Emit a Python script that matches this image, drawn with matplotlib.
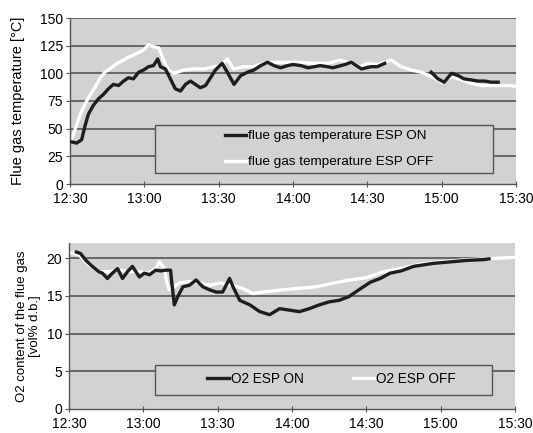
import matplotlib.pyplot as plt
from matplotlib.patches import Rectangle
import numpy as np

plt.rcParams['font.family'] = ['Liberation Sans', 'DejaVu Sans']

# minutes after 12:30
tick_pos = [0, 30, 60, 90, 120, 150, 180]
tick_lab = ['12:30', '13:00', '13:30', '14:00', '14:30', '15:00', '15:30']

temp_on_t = [0.7, 2.7, 4.7, 6, 7.4, 9.4, 11.5, 13.5, 15.5, 17.5, 19.6, 21.6, 23.6, 25.6, 27.7,
             29.7, 31.7, 33.7, 35.4, 36.5, 38.5, 40.5, 42.5, 44.6, 46.6, 48.6, 50.6, 52.6, 54.7,
             56.7, 58.7, 61.4, 63.5, 66.2, 68.9, 71.6, 74.2, 77, 79.7, 82.3, 85, 87.8, 90, 93.2,
             96, 98.6, 101, 104, 106, 109.4, 111, 113.5, 117.6, 121.6, 124, 127, 136,
             145.8, 148.5, 151, 154, 156.6, 159, 162, 164.7, 167.4, 170, 172.8]
temp_on = [38, 37, 40, 52, 63, 71, 77, 81, 86, 90, 89, 93, 96, 95, 101,
           103, 106, 107, 113, 106, 104, 95, 86, 84, 90, 93, 90, 87, 89,
           96, 103, 109, 101, 90, 98, 101, 103, 107, 110, 107, 105, 107, 108, 107,
           105, 106, 107, 106, 105, 107, 108, 110, 104, 106, 106, 109, np.nan,
           101, 95, 92, 100, 98, 95, 94, 93, 93, 92, 92]

temp_off_t = [0, 2, 4, 6, 8, 10, 12, 14, 16, 19, 21.6, 24, 27, 29.7, 31.7, 33.7, 35.8, 37.8,
              39.8, 41.9, 46, 50, 54, 58, 61, 63.5, 66, 70, 74, 78, 82, 88, 93, 98, 104, 109,
              113.5, 117, 120, 124, 127, 129.6, 133.6, 137.7, 141.8, 145.8, 150, 154, 158, 162,
              166, 170, 174, 178, 180]
temp_off = [37, 49, 62, 72, 80, 87, 95, 101, 104, 109, 112, 115, 118, 121, 126, 124, 123, 112,
            103, 100, 103, 104, 104, 106, 107, 113, 104, 106, 106, 109, 110, 110, 110, 109, 109, 112,
            109, 106, 109, 108, 110, 112, 106, 103, 101, 97, 92, 97, 94, 91,
            89, 89, 89, 89, 88]

o2_on_t = [3, 4.7, 6.8, 9.4, 12, 13.5, 15.5, 17.5, 19.6, 21.6, 23.6, 25.6, 28.4, 30.4, 32.5, 35,
           37, 39, 41, 41.5, 42.5, 43.9, 46, 48.6, 51.3, 54, 56.7, 59.4, 62, 64.8, 66.2, 68.9, 73,
           77, 81, 85, 89, 93, 97, 101, 105, 109, 113, 117, 121.6, 125.6, 129.6, 134, 139, 147,
           154, 160.7, 167.4, 169.5]
o2_on = [20.8, 20.6, 19.7, 18.9, 18.2, 18.0, 17.3, 18.0, 18.6, 17.3, 18.2, 18.9, 17.5, 18.0, 17.8, 18.4,
         18.3, 18.4, 18.4, 16.7, 13.8, 14.9, 16.2, 16.4, 17.1, 16.2, 15.8, 15.5, 15.5, 17.3, 16.2, 14.4, 13.8,
         12.9, 12.5, 13.3, 13.1, 12.9, 13.3, 13.8, 14.2, 14.4, 14.9, 15.8, 16.8, 17.3, 18.0, 18.3, 18.9, 19.3,
         19.5, 19.7, 19.8, 19.9]

o2_off_t = [0, 4, 8, 12, 16, 20, 24, 28, 32, 35, 36.5, 38.5, 39.5, 40.5, 44.6, 48.6, 52.6, 56.7,
            60.8, 66, 70, 74.2, 78.3, 86.4, 93, 100, 106.8, 113.5, 120, 127, 133.6, 140.4, 147,
            154, 160.7, 167.5, 174, 180]
o2_off = [20.8, 20.4, 19.1, 18.2, 18.2, 18.4, 18.2, 18.2, 18.0, 18.6, 19.5, 18.6, 16.7, 15.8, 16.7, 16.9,
          16.7, 16.4, 16.7, 16.4, 16.0, 15.3, 15.5, 15.8, 16.0, 16.2, 16.7, 17.1, 17.4, 18.2, 18.6, 19.1,
          19.4, 19.6, 19.8, 19.9, 20.0, 20.1]

bg = '#d2d2d2'
grid_c = '#4a4a4a'

fig = plt.figure(figsize=(5.33, 4.33), dpi=100)
ax1 = fig.add_axes([70/533, 1-184/433, 446/533, 166/433])
ax2 = fig.add_axes([69/533, 1-409/433, 446/533, 166/433])


def style(ax, ymax, yticks):
    ax.set_facecolor(bg)
    ax.set_xlim(0, 180)
    ax.set_ylim(0, ymax)
    ax.set_xticks(tick_pos)
    ax.set_xticklabels(tick_lab)
    ax.set_yticks(yticks)
    for y in yticks[1:]:
        ax.axhline(y, color=grid_c, lw=1.1, zorder=1)
    for s in ['top', 'right']:
        ax.spines[s].set_visible(False)
    for s in ['left', 'bottom']:
        ax.spines[s].set_color('#555555')
        ax.spines[s].set_linewidth(1.0)
    ax.tick_params(axis='x', direction='inout', length=5, color='#555555', labelsize=10, pad=3)
    ax.tick_params(axis='y', direction='out', length=3, color='#555555', labelsize=10, pad=2)


style(ax1, 150, [0, 25, 50, 75, 100, 125, 150])
style(ax2, 22, [0, 5, 10, 15, 20])

l1, = ax1.plot(temp_on_t, temp_on, color='#1e1e1e', lw=2.4, zorder=3)
l2, = ax1.plot(temp_off_t, temp_off, color='white', lw=2.4, zorder=2)
ax1.set_ylabel('Flue gas temperature [°C]', fontsize=10.5)
ax1.yaxis.set_label_coords(-0.101, 0.5)

ax1.add_patch(Rectangle((0.191, 0.066), 0.758, 0.289, transform=ax1.transAxes,
                        facecolor=bg, edgecolor='#555555', lw=1.0, zorder=4))
ax1.legend([l1, l2], ['flue gas temperature ESP ON', 'flue gas temperature ESP OFF'],
           loc='center left', bbox_to_anchor=(0.332, 0.21), frameon=False, fontsize=9.7,
           handlelength=1.6, handletextpad=0.15, borderpad=0, labelspacing=1.0).set_zorder(5)

l3, = ax2.plot(o2_on_t, o2_on, color='#1e1e1e', lw=2.4, zorder=3)
l4, = ax2.plot(o2_off_t, o2_off, color='white', lw=2.4, zorder=2)
ax2.set_ylabel('O2 content of the flue gas\n[vol% d.b.]', fontsize=9.5)
ax2.yaxis.set_label_coords(-0.062, 0.5)

ax2.add_patch(Rectangle((0.193, 0.084), 0.756, 0.181, transform=ax2.transAxes,
                        facecolor=bg, edgecolor='#555555', lw=1.0, zorder=4))
ax2.legend([l3, l4], ['O2 ESP ON', 'O2 ESP OFF'], ncol=2,
           loc='center left', bbox_to_anchor=(0.294, 0.18), frameon=False, fontsize=9.8,
           handlelength=1.6, handletextpad=0.15, borderpad=0, columnspacing=3.6).set_zorder(5)

fig.savefig('out.png', dpi=100)
